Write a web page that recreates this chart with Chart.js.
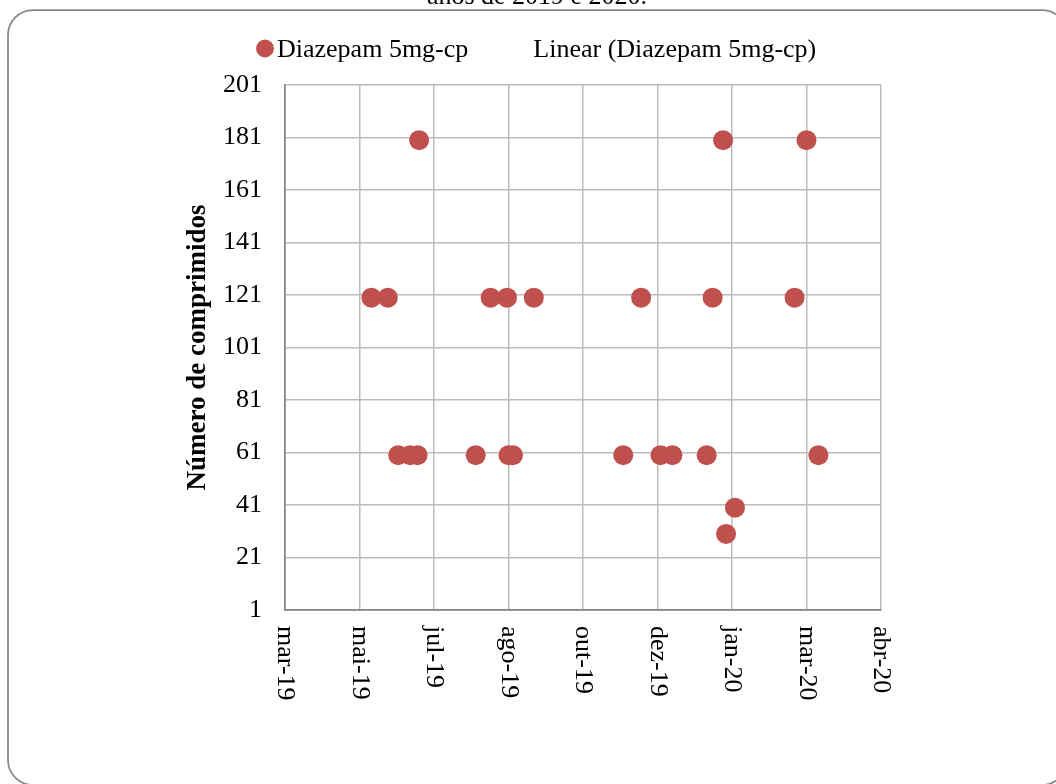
<!DOCTYPE html>
<html lang="pt">
<head>
<meta charset="utf-8">
<title>Diazepam 5mg-cp</title>
<script src="https://cdn.jsdelivr.net/npm/chart.js@4.4.1/dist/chart.umd.min.js"></script>
<style>
  html, body { margin: 0; padding: 0; background: #fff; overflow: hidden; }
  canvas { display: block; }
</style>
</head>
<body>
<canvas id="chart" width="1056" height="784"></canvas>
<script>
// Dispensing dates and the number of tablets dispensed on each date
const dispenseDates = [
  '2019-05-23', '2019-06-03', '2019-06-10', '2019-06-18', '2019-06-23', '2019-06-24',
  '2019-08-01', '2019-08-11', '2019-08-22', '2019-08-23', '2019-08-26', '2019-09-09',
  '2019-11-08', '2019-11-20', '2019-12-03', '2019-12-11', '2020-01-03', '2020-01-07',
  '2020-01-14', '2020-01-16', '2020-01-22', '2020-03-02', '2020-03-10', '2020-03-18'
];
const tabletCounts = [
  120, 120, 60, 60, 60, 180,
  60, 120, 120, 60, 60, 120,
  60, 120, 60, 60, 60, 120,
  180, 30, 40, 120, 180, 60
];

const seriesName = 'Diazepam 5mg-cp';
const trendName = 'Linear (Diazepam 5mg-cp)';
const yAxisTitle = 'Número de comprimidos';
const captionTail = 'anos de 2019 e 2020.';
const monthAbbr = ['jan', 'fev', 'mar', 'abr', 'mai', 'jun', 'jul', 'ago', 'set', 'out', 'nov', 'dez'];

// Axis bounds: x in spreadsheet day serials, y in tablets
const xRange = [43550, 43950];
const xStep = 50;
const yRange = [1, 201];
const yStep = 20;

const SERIF = '"Liberation Serif", "Times New Roman", serif';
const POINT_RED = '#C0504D';
const DAY_MS = 86400000;
const SERIAL_EPOCH = Date.UTC(1899, 11, 30);

function toSerial(iso) {
  return Math.round((Date.parse(iso + 'T00:00:00Z') - SERIAL_EPOCH) / DAY_MS);
}
function serialLabel(v) {
  const d = new Date(SERIAL_EPOCH + v * DAY_MS);
  return monthAbbr[d.getUTCMonth()] + '-' + String(d.getUTCFullYear()).slice(2);
}

const points = dispenseDates.map((d, i) => ({ x: toSerial(d), y: tabletCounts[i] }));

// Frame, caption, rotated date labels and legend
const decorations = {
  id: 'decorations',
  beforeDraw(chart) {
    const ctx = chart.ctx;
    ctx.save();
    ctx.fillStyle = '#fff';
    ctx.fillRect(0, 0, chart.width, chart.height);

    // rounded frame around the chart object
    const x = 8, y = 10, w = 1059, h = 775, r = 25;
    ctx.beginPath();
    ctx.moveTo(x + r, y);
    ctx.arcTo(x + w, y, x + w, y + h, r);
    ctx.arcTo(x + w, y + h, x, y + h, r);
    ctx.arcTo(x, y + h, x, y, r);
    ctx.arcTo(x, y, x + w, y, r);
    ctx.closePath();
    ctx.strokeStyle = '#878787';
    ctx.lineWidth = 1.75;
    ctx.stroke();

    // tail of the caption line above the frame
    ctx.fillStyle = '#000';
    ctx.font = '26px ' + SERIF;
    ctx.textAlign = 'center';
    ctx.textBaseline = 'alphabetic';
    ctx.fillText(captionTail, 537, 4);
    ctx.restore();
  },
  afterDraw(chart) {
    const ctx = chart.ctx;
    const xs = chart.scales.x;
    ctx.save();
    ctx.fillStyle = '#000';
    ctx.font = '26px ' + SERIF;

    // date labels, turned to read downwards
    xs.ticks.forEach(t => {
      const px = xs.getPixelForValue(t.value);
      ctx.save();
      ctx.translate(px, xs.top + 16);
      ctx.rotate(Math.PI / 2);
      ctx.textAlign = 'left';
      ctx.textBaseline = 'middle';
      ctx.fillText(serialLabel(t.value), 0, 0);
      ctx.restore();
    });

    // legend
    const ds = chart.data.datasets;
    const cx = 265, cy = 48.5, baseY = 57;
    ctx.beginPath();
    ctx.arc(cx, cy, 9, 0, Math.PI * 2);
    ctx.fillStyle = ds[0].backgroundColor;
    ctx.fill();
    ctx.fillStyle = '#000';
    ctx.textAlign = 'left';
    ctx.textBaseline = 'alphabetic';
    const t1x = cx + 12;
    ctx.fillText(ds[0].label, t1x, baseY);
    const t2x = t1x + ctx.measureText(ds[0].label).width + 65;
    ctx.fillText(ds[1].label, t2x, baseY);
    ctx.restore();
  }
};

const gridStyle = { color: '#BBBBBB', lineWidth: 1.5, drawTicks: false };
const axisLine = { color: '#868686', width: 1.75 };

new Chart(document.getElementById('chart'), {
  type: 'scatter',
  data: {
    datasets: [
      {
        label: seriesName,
        data: points,
        backgroundColor: POINT_RED,
        borderColor: POINT_RED,
        pointRadius: 10,
        pointHoverRadius: 10,
        borderWidth: 0
      },
      {
        label: trendName,
        type: 'line',
        data: [],
        borderColor: 'rgba(0,0,0,0)',
        backgroundColor: 'rgba(0,0,0,0)',
        pointRadius: 0
      }
    ]
  },
  options: {
    responsive: false,
    animation: false,
    devicePixelRatio: 1,
    layout: { padding: { left: 170, right: 175, top: 85, bottom: 0 } },
    plugins: {
      legend: { display: false },
      tooltip: { enabled: false },
      title: { display: false }
    },
    scales: {
      x: {
        type: 'linear',
        min: xRange[0],
        max: xRange[1],
        ticks: { stepSize: xStep, display: false },
        grid: gridStyle,
        border: axisLine,
        afterFit(scale) { scale.height = 174; }
      },
      y: {
        type: 'linear',
        min: yRange[0],
        max: yRange[1],
        ticks: {
          stepSize: yStep,
          padding: 23,
          color: '#000',
          font: { family: SERIF, size: 26 }
        },
        grid: gridStyle,
        border: axisLine,
        title: {
          display: true,
          text: yAxisTitle,
          color: '#000',
          font: { family: SERIF, size: 27, weight: 'bold', lineHeight: 1.2 },
          padding: { top: 12, bottom: 0 }
        },
        afterFit(scale) { scale.width = 115; }
      }
    }
  },
  plugins: [decorations]
});
</script>
</body>
</html>
